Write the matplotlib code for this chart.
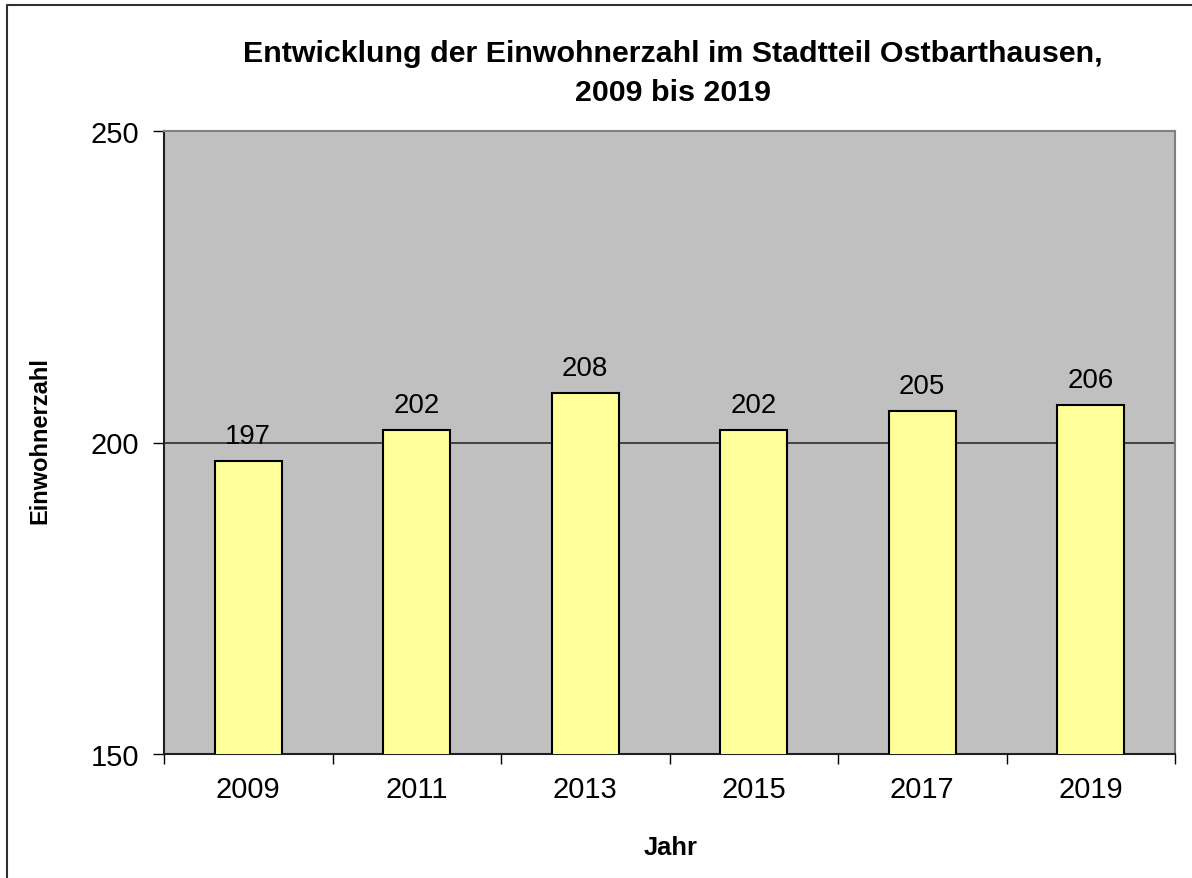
import matplotlib.pyplot as plt
import numpy as np
from matplotlib import rcParams
from matplotlib.lines import Line2D

rcParams['font.family'] = ['Liberation Sans', 'DejaVu Sans']

# Daten
jahre = ['2009', '2011', '2013', '2015', '2017', '2019']
einwohner = [197, 202, 208, 202, 205, 206]
yticks = [150, 200, 250]

W, H = 1192, 879
fig = plt.figure(figsize=(W/100, H/100), dpi=100)
ax = fig.add_axes([164/W, 1-755/H, (1175-164)/W, (755-132)/H])
ax.set_facecolor('#C0C0C0')

x = np.arange(len(jahre))
bars = ax.bar(x, einwohner, width=0.4, color='#FFFF99', edgecolor='black', linewidth=1.5, zorder=3)
for xi, v in zip(x, einwohner):
    ax.annotate(str(v), (xi, v), xytext=(0, 13), textcoords='offset points',
                ha='center', va='baseline', fontsize=19.9, zorder=4)

ax.set_ylim(150, 250)
ax.set_xlim(-0.5, len(jahre)-0.5)
ax.set_yticks(yticks)
ax.set_yticklabels([str(t) for t in yticks])
ax.yaxis.grid(True, color='#202020', linewidth=1.1, zorder=1)
ax.set_axisbelow(True)

ax.set_xticks(x)
ax.set_xticklabels(jahre)
ax.set_xticks(np.arange(len(jahre)+1)-0.5, minor=True)
ax.tick_params(axis='x', which='major', length=0, pad=15, labelsize=20.9)
ax.tick_params(axis='x', which='minor', length=7, width=1, color='black', direction='out')
ax.tick_params(axis='y', length=8, width=1, pad=10, labelsize=20.9, direction='out')

for s in ['top', 'right']:
    ax.spines[s].set_color('#808080')
    ax.spines[s].set_linewidth(1.5)
for s in ['left', 'bottom']:
    ax.spines[s].set_color('#202020')
    ax.spines[s].set_linewidth(1.5)

# Titel und Achsentitel
fig.text(673/W, 1-62/H, 'Entwicklung der Einwohnerzahl im Stadtteil Ostbarthausen,',
         ha='center', va='baseline', fontsize=21.9, fontweight='bold')
fig.text(673/W, 1-101/H, '2009 bis 2019',
         ha='center', va='baseline', fontsize=21.9, fontweight='bold')
fig.text(40/W, 1-441/H, 'Einwohnerzahl', rotation=90, ha='center', va='center',
         fontsize=17, fontweight='bold')
fig.text(671/W, 1-855/H, 'Jahr', ha='center', va='baseline', fontsize=18.4, fontweight='bold')

# Rahmen
fig.add_artist(Line2D([7.5/W, 7.5/W, 1], [0, 1-5.5/H, 1-5.5/H], transform=fig.transFigure,
                      color='#303030', linewidth=1.5))

fig.savefig('out.png', dpi=100)
